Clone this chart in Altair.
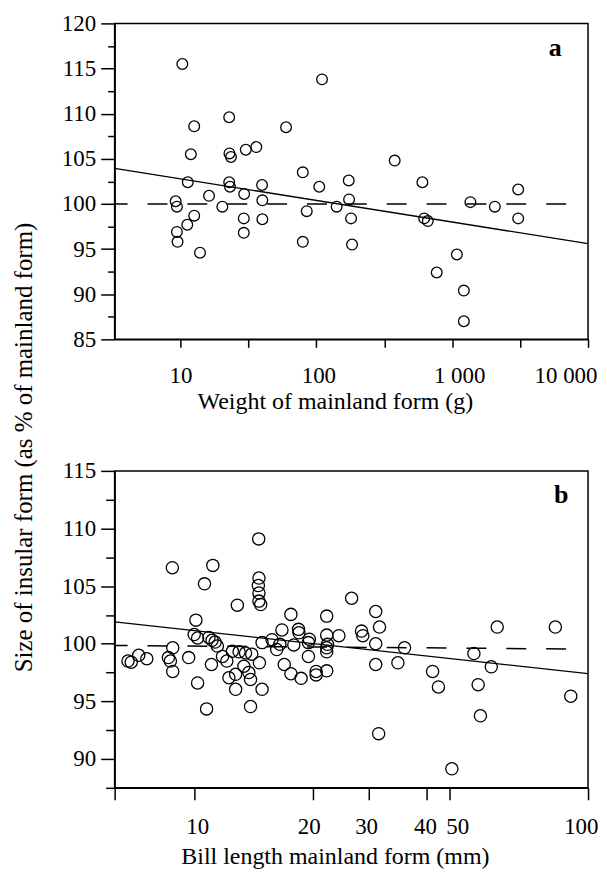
import altair as alt
import pandas as pd

# ---------------- Panel a: weight ----------------
a_weight = [10.3, 110, 22.8, 12.6, 59.8, 11.9, 22.9, 23.5, 30.2, 36.1, 377, 79.4,
            11.3, 22.8, 23.1, 39.8, 105, 173, 603, 3060, 9.2, 9.4, 16.2, 20.3,
            29.4, 40, 141, 174, 1361, 2060, 12.6, 11.2, 9.4, 9.5, 13.9, 29.2,
            29.2, 40, 84.9, 79.4, 180, 183, 622, 661, 3060, 1082, 769, 1218, 1218]
a_size = [115.5, 113.8, 109.6, 108.6, 108.5, 105.5, 105.6, 105.2, 106.0, 106.3, 104.8, 103.5,
          102.4, 102.4, 101.9, 102.1, 101.9, 102.6, 102.4, 101.6, 100.3, 99.7, 100.9, 99.7,
          101.1, 100.4, 99.7, 100.5, 100.2, 99.7, 98.7, 97.7, 96.9, 95.8, 94.6, 98.4,
          96.8, 98.3, 99.2, 95.8, 98.4, 95.5, 98.4, 98.1, 98.4, 94.4, 92.4, 90.4, 87.0]

a_fit_x = [3.27, 10000]
a_fit_y = [103.95, 95.6]
a_ref_x = [3.27, 7240]
a_ref_y = [100, 100]
a_x_domain = [3.27, 10000]
a_y_domain = [85, 120]
a_x_ticks = [10, 31.62, 100, 316.2, 1000, 3162, 10000]
a_x_labels = ["10", "", "100", "", "1 000", "", "10 000"]
a_x_label_shift = [0, 0, 2, 0, 7, 0, 0]
a_y_ticks = [85, 87.5, 90, 92.5, 95, 97.5, 100, 102.5, 105, 107.5, 110, 112.5, 115, 117.5, 120]

# ---------------- Panel b: bill length ----------------
b_bill = [14.58, 8.8, 11.15, 10.62, 14.6, 14.55, 14.6, 14.6, 14.75, 12.87, 25.1, 28.9,
          29.55, 58.8, 82.6, 17.6, 21.7, 10.1, 16.7, 18.4, 18.45, 26.6, 26.8, 23.3,
          21.7, 10.0, 10.2, 10.9, 11.1, 11.3, 15.76, 14.87, 16.5, 19.5, 19.6, 28.9,
          34.2, 8.82, 11.45, 21.7, 21.7, 12.5, 13.0, 13.5, 14.0, 51.3, 6.92, 7.23,
          7.58, 6.79, 8.6, 8.7, 8.82, 9.68, 11.06, 10.2, 10.75, 12.25, 12.74, 12.74,
          13.9, 13.9, 14.64, 14.87, 13.76, 12.1, 13.37, 11.8, 16.93, 17.6, 18.68, 20.4,
          20.4, 21.7, 19.5, 16.2, 28.9, 32.9, 40.3, 41.7, 56.8, 52.6, 53.3, 90.4,
          29.4, 45.1, 21.8, 17.9]
b_size = [109.1, 106.6, 106.8, 105.2, 105.7, 105.05, 104.4, 103.7, 103.4, 103.35, 103.95, 102.8,
          101.45, 101.45, 101.45, 102.55, 102.4, 102.05, 101.2, 101.25, 100.95, 101.1, 100.7, 100.7,
          100.75, 100.8, 100.5, 100.55, 100.3, 100.15, 100.35, 100.1, 99.95, 100.1, 100.4, 100.0,
          99.65, 99.65, 99.8, 99.65, 99.3, 99.35, 99.3, 99.2, 99.1, 99.15, 98.4, 99.0,
          98.7, 98.5, 98.8, 98.5, 97.6, 98.8, 98.2, 96.6, 94.35, 97.05, 96.05, 97.35,
          96.9, 94.55, 98.35, 96.05, 97.5, 98.5, 98.05, 98.9, 98.2, 97.4, 97.0, 97.6,
          97.3, 97.65, 98.9, 99.5, 98.2, 98.35, 97.6, 96.25, 98.0, 96.45, 93.75, 95.45,
          92.2, 89.15, 99.95, 99.9]

b_fit_x = [6.28, 100]
b_fit_y = [101.9, 97.4]
b_ref_x = [6.28, 89.1]
b_ref_y = [99.85, 99.55]
b_x_domain = [6.28, 100]
b_y_domain = [87.5, 115]
b_x_ticks = [6.28, 10, 20, 27.8, 39, 44.4, 100]
b_x_labels = ["", "10", "20", "30", "40", "50", "100"]
b_x_label_shift = [0, 3, -4, -3, -2, 8, 0]
b_y_ticks = [87.5, 90, 92.5, 95, 97.5, 100, 102.5, 105, 107.5, 110, 112.5, 115]

FONT = "Liberation Serif, Times New Roman, DejaVu Serif, serif"
W = 475


def match(t):
    return f"abs(datum.value - {t}) < {t * 1e-4}"


def label_expr(ticks, labels):
    parts = [f"{match(t)} ? '{l}'" for t, l in zip(ticks, labels)]
    return " : ".join(parts) + " : ''"


def offset_expr(ticks, shifts):
    parts = [f"{match(t)} ? {s}" for t, s in zip(ticks, shifts) if s != 0]
    return " : ".join(parts) + " : 0"


def panel(xs, ys, fx, fy, rx, ry, xdom, ydom, xticks, xlabels, xshift, yticks, xtitle,
          ytitle, height, pt_size, xtick_size, xlab_pad, ytick_minor, flush_off,
          letter, letter_x, letter_y, xtitle_y, ytitle_props):
    x_axis = alt.Axis(values=xticks, labelExpr=label_expr(xticks, xlabels),
                      labelOffset=alt.ExprRef(offset_expr(xticks, xshift)),
                      tickSize=xtick_size, labelPadding=xlab_pad, labelOverlap=False,
                      labelFlush=1, labelFlushOffset=flush_off,
                      labelFont=FONT, labelFontSize=23,
                      title=xtitle, titleFontSize=24, titleFont=FONT,
                      titleFontWeight="normal", titleX=221, titleY=xtitle_y,
                      titleAlign="center", titleBaseline="alphabetic")
    y_kwargs = dict(values=yticks,
                    labelExpr="datum.value % 5 === 0 ? format(datum.value, 'd') : ''",
                    tickSize={"condition": {"test": "datum.value % 5 === 0", "value": 14},
                              "value": ytick_minor},
                    labelFont=FONT, labelFontSize=23,
                    labelPadding=5, labelOverlap=False, title=ytitle)
    y_kwargs.update(ytitle_props)
    y_axis = alt.Axis(**y_kwargs)

    def enc(c):
        return c.encode(
            x=alt.X("x:Q", scale=alt.Scale(type="log", domain=xdom, nice=False), axis=x_axis),
            y=alt.Y("y:Q", scale=alt.Scale(domain=ydom, nice=False, zero=False), axis=y_axis),
        )

    pts = enc(alt.Chart(pd.DataFrame({"x": xs, "y": ys})).mark_point(
        shape="circle", filled=False, color="black", size=pt_size, strokeWidth=1.3, opacity=1))
    fit = enc(alt.Chart(pd.DataFrame({"x": fx, "y": fy})).mark_line(
        color="black", strokeWidth=1.3))
    ref = enc(alt.Chart(pd.DataFrame({"x": rx, "y": ry})).mark_line(
        color="black", strokeWidth=1.5, strokeDash=[20, 20], strokeDashOffset=7))
    txt = alt.Chart(pd.DataFrame({"t": [letter]})).mark_text(
        font=FONT, fontSize=26, fontWeight="bold", color="black").encode(
        text="t:N", x=alt.value(letter_x), y=alt.value(letter_y))
    return alt.layer(ref, fit, pts, txt).properties(width=W, height=height)


chart_a = panel(a_weight, a_size, a_fit_x, a_fit_y, a_ref_x, a_ref_y, a_x_domain,
                a_y_domain, a_x_ticks, a_x_labels, a_x_label_shift, a_y_ticks,
                "Weight of mainland form (g)",
                "Size of insular form (as % of mainland form)",
                317, 115, 8, 17, 7, 9, "a", 442, 25, 69,
                dict(titleFontSize=25, titleFont=FONT, titleFontWeight="normal",
                     titleAngle=270, titleX=-91, titleY=425, titleAlign="center",
                     titleBaseline="middle"))

chart_b = panel(b_bill, b_size, b_fit_x, b_fit_y, b_ref_x, b_ref_y, b_x_domain,
                b_y_domain, b_x_ticks, b_x_labels, b_x_label_shift, b_y_ticks,
                "Bill length mainland form (mm)", None,
                318, 150, 12, 16, 9, 10, "b", 448, 24, 76, {})

chart = alt.vconcat(chart_a, chart_b, spacing=132, bounds="flush").properties(
    padding={"left": 3, "top": 2, "right": 0, "bottom": 0}
).configure(font=FONT).configure_axis(
    labelFont=FONT, titleFont=FONT, labelFontSize=23, labelColor="black",
    domainColor="black", domainWidth=1.5, tickColor="black", tickWidth=1.5,
    grid=False, titleColor="black"
).configure_view(stroke="black", strokeWidth=1.5)

chart.save("out.html", embed_options={"renderer": "svg", "actions": False})
